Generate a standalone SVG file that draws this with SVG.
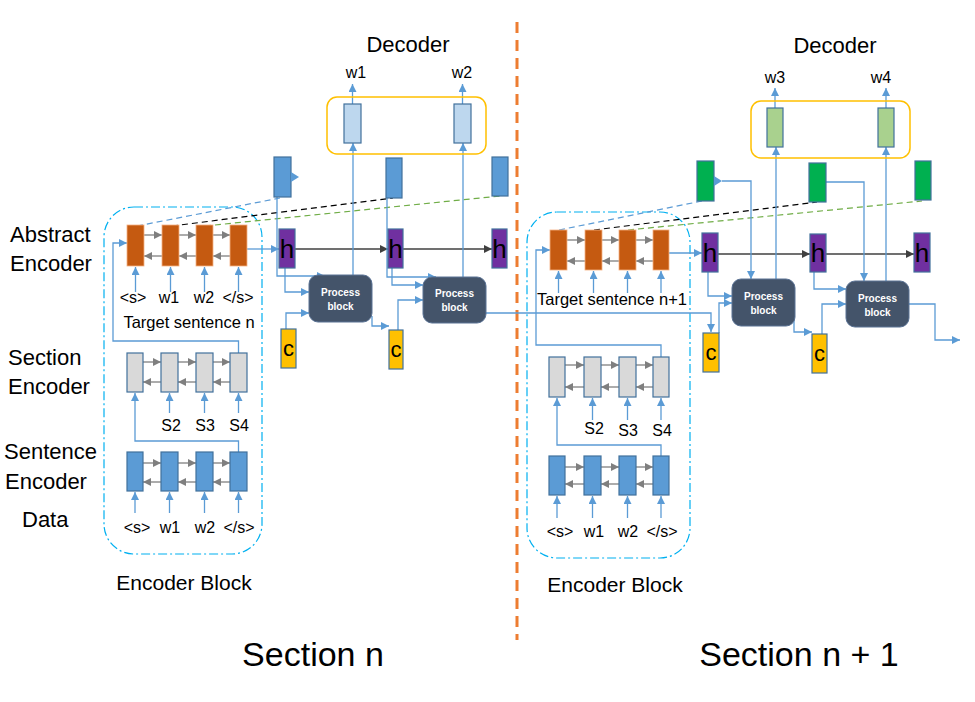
<svg xmlns="http://www.w3.org/2000/svg" width="975" height="702" viewBox="0 0 975 702">
<defs>
<marker id="ab" viewBox="0 0 10 10" refX="10" refY="5" markerWidth="9" markerHeight="8" markerUnits="userSpaceOnUse" orient="auto"><path d="M0,0 L10,5 L0,10 z" fill="#5B9BD5"/></marker>
<marker id="ag" viewBox="0 0 10 10" refX="10" refY="5" markerWidth="9" markerHeight="8" markerUnits="userSpaceOnUse" orient="auto"><path d="M0,0 L10,5 L0,10 z" fill="#7F7F7F"/></marker>
<marker id="ak" viewBox="0 0 10 10" refX="10" refY="5" markerWidth="10" markerHeight="8" markerUnits="userSpaceOnUse" orient="auto"><path d="M0,0 L10,5 L0,10 z" fill="#404040"/></marker>
</defs>
<style>
text{font-family:"Liberation Sans",Arial,sans-serif;fill:#000}
.lab{font-size:22px}
.sm{font-size:16px}
.big{font-size:34px}
.pb{fill:#44546A;stroke:#5A7294;stroke-width:1}
.pbt{font-size:10px;font-weight:bold;fill:#fff;text-anchor:middle}
.or{fill:#C55A11;stroke:#F4B183;stroke-width:0.8}
.gr{fill:#D9D9D9;stroke:#41719C;stroke-width:1.2}
.bl{fill:#5B9BD5;stroke:#41719C;stroke-width:1.2}
.lb{fill:#BDD7EE;stroke:#41719C;stroke-width:1.2}
.lg{fill:#A9D18E;stroke:#41719C;stroke-width:1.2}
.gn{fill:#00B050;stroke:#41719C;stroke-width:1.2}
.hb{fill:#7030A0;stroke:#41719C;stroke-width:1.2}
.cb{fill:#FFC000;stroke:#41719C;stroke-width:1.2}
.ht{font-size:26px;text-anchor:middle}
.ct{font-size:22px;text-anchor:middle}
.c{fill:none;stroke:#5B9BD5;stroke-width:1.3}
.ca{fill:none;stroke:#5B9BD5;stroke-width:1.3;marker-end:url(#ab)}
.ga{fill:none;stroke:#7F7F7F;stroke-width:1.3;marker-end:url(#ag)}
.ka{fill:none;stroke:#404040;stroke-width:1.3;marker-end:url(#ak)}
.mid{text-anchor:middle}
.eb{fill:none;stroke:#00B0F0;stroke-width:1.2;stroke-dasharray:9 3 2 3}
.dec{fill:none;stroke:#FFC000;stroke-width:1.5}
</style>

<!-- labels -->
<g id="labels">
<text class="lab" x="10" y="242">Abstract</text>
<text class="lab" x="10" y="271">Encoder</text>
<text class="lab" x="8" y="365">Section</text>
<text class="lab" x="8" y="394">Encoder</text>
<text class="lab" x="4" y="459">Sentence</text>
<text class="lab" x="5" y="489">Encoder</text>
<text class="lab" x="22" y="527">Data</text>
<text class="lab mid" x="408" y="52">Decoder</text>
<text class="lab mid" x="835" y="53">Decoder</text>
<text class="big mid" x="313" y="666">Section n</text>
<text class="big mid" x="799" y="666">Section n + 1</text>
</g>

<line id="divider" x1="517" y1="22" x2="517" y2="640" stroke="#ED7D31" stroke-width="3" stroke-dasharray="11 7"/>

<!-- encoder blocks -->
<g id="encoder-block-n">
<rect class="eb" x="104" y="207" width="158" height="347" rx="30"/>
<text class="mid" x="184" y="590" style="font-size:21px">Encoder Block</text>
</g>
<g id="encoder-block-n1">
<rect class="eb" x="527" y="212" width="163" height="346" rx="30"/>
<text class="mid" x="615" y="592" style="font-size:21px">Encoder Block</text>
</g>

<!-- connectors -->
<g id="connectors">
<!-- left encoders internal -->
<path class="ga" d="M144,235 H162"/><path class="ga" d="M179,235 H196"/><path class="ga" d="M213,235 H230"/>
<path class="ga" d="M162,256 H144"/><path class="ga" d="M196,256 H179"/><path class="ga" d="M230,256 H213"/>
<path class="ga" d="M143,362 H161"/><path class="ga" d="M178,362 H196"/><path class="ga" d="M213,362 H230"/>
<path class="ga" d="M161,382 H143"/><path class="ga" d="M196,382 H178"/><path class="ga" d="M230,382 H213"/>
<path class="ga" d="M143,463 H161"/><path class="ga" d="M178,463 H196"/><path class="ga" d="M213,463 H230"/>
<path class="ga" d="M161,482 H143"/><path class="ga" d="M196,482 H178"/><path class="ga" d="M230,482 H213"/>
<path class="ca" d="M135.5,292 V267"/><path class="ca" d="M170.5,292 V267"/><path class="ca" d="M204.5,292 V267"/><path class="ca" d="M238.5,292 V267"/>
<path class="ca" d="M169.5,413 V393"/><path class="ca" d="M204.5,413 V393"/><path class="ca" d="M238.5,413 V393"/>
<path class="ca" d="M135,513 V492"/><path class="ca" d="M169.5,513 V492"/><path class="ca" d="M204.5,513 V492"/><path class="ca" d="M238.5,513 V492"/>
<path class="ca" d="M238.5,353 V341 H113 V243 H127"/>
<path class="ca" d="M238.5,452 V441 H135 V393"/>
<!-- right encoders internal -->
<path class="ga" d="M567,240 H585"/><path class="ga" d="M602,240 H619"/><path class="ga" d="M636,240 H653"/>
<path class="ga" d="M585,261 H567"/><path class="ga" d="M619,261 H602"/><path class="ga" d="M653,261 H636"/>
<path class="ga" d="M565,365 H584"/><path class="ga" d="M601,365 H619"/><path class="ga" d="M636,365 H653"/>
<path class="ga" d="M584,387 H565"/><path class="ga" d="M619,387 H601"/><path class="ga" d="M653,387 H636"/>
<path class="ga" d="M565,467 H584"/><path class="ga" d="M601,467 H619"/><path class="ga" d="M636,467 H653"/>
<path class="ga" d="M584,484 H565"/><path class="ga" d="M619,484 H601"/><path class="ga" d="M653,484 H636"/>
<path class="ca" d="M558.5,293 V271"/><path class="ca" d="M593.5,293 V271"/><path class="ca" d="M627.5,293 V271"/><path class="ca" d="M661,293 V271"/>
<path class="ca" d="M592.5,420 V398"/><path class="ca" d="M627.5,420 V398"/><path class="ca" d="M661,420 V398"/>
<path class="ca" d="M557,518 V496"/><path class="ca" d="M592.5,518 V496"/><path class="ca" d="M627.5,518 V496"/><path class="ca" d="M661,518 V496"/>
<path class="ca" d="M661,357 V345 H536 V250 H550"/>
<path class="ca" d="M661,456 V445 H557 V398"/>

<!-- dashed attention lines -->
<line x1="137" y1="226" x2="280" y2="198" stroke="#5B9BD5" stroke-width="1.2" stroke-dasharray="6 4"/>
<line x1="172" y1="226" x2="393" y2="198" stroke="#000" stroke-width="1.2" stroke-dasharray="6 4"/>
<line x1="205" y1="226" x2="500" y2="196" stroke="#70AD47" stroke-width="1.2" stroke-dasharray="6 4"/>
<line x1="559" y1="230" x2="702" y2="201" stroke="#5B9BD5" stroke-width="1.2" stroke-dasharray="6 4"/>
<line x1="594" y1="230" x2="817" y2="202" stroke="#000" stroke-width="1.2" stroke-dasharray="6 4"/>
<line x1="628" y1="230" x2="922" y2="201" stroke="#70AD47" stroke-width="1.2" stroke-dasharray="6 4"/>

<!-- left section flow -->
<path class="ca" d="M247,249 H279"/>
<path class="ka" d="M295,249 H388"/>
<path class="ka" d="M403,249 H492"/>
<path class="ca" d="M277,197 V276 H325"/>
<path class="ca" d="M285,268 V292 H309"/>
<path class="ca" d="M286,329 V313 H309"/>
<path class="ca" d="M372,316 V326 H389"/>
<path class="ca" d="M398,330 V300 H423"/>
<path class="ca" d="M387,198 V277 H436"/>
<path class="ca" d="M392,268 V285 H423"/>
<path class="ca" d="M486,313 H711 V332"/>
<path class="ca" d="M353,275 V143"/>
<path class="ca" d="M463,277 V143"/>
<path class="ca" d="M352.5,104 V84"/>
<path class="ca" d="M462.5,104 V84"/>

<!-- right section flow -->
<path class="ca" d="M669,253 H702"/>
<path class="ka" d="M718,254 H810"/>
<path class="ka" d="M826,254 H914"/>
<path class="ca" d="M722,181 H751 V279"/>
<path class="ca" d="M708,272 V296 H732"/>
<path class="ca" d="M719,333 V303 H732"/>
<path class="ca" d="M794,318 V332 H812"/>
<path class="ca" d="M822,334 V304 H846"/>
<path class="ca" d="M826,182 H864 V281"/>
<path class="ca" d="M814,272 V289 H846"/>
<path class="ca" d="M909,304 H935 V340 H960"/>
<path class="ca" d="M776,279 V147"/>
<path class="ca" d="M886,281 V147"/>
<path class="ca" d="M775,108 V88"/>
<path class="ca" d="M886,108 V88"/>
</g>

<!-- left abstract encoder -->
<g id="abs-enc-n">
<rect class="or" x="127" y="225" width="17" height="41"/>
<rect class="or" x="162" y="225" width="17" height="41"/>
<rect class="or" x="196" y="225" width="17" height="41"/>
<rect class="or" x="230" y="225" width="17" height="41"/>
<text class="sm mid" x="133" y="303">&lt;s&gt;</text>
<text class="sm mid" x="169" y="303">w1</text>
<text class="sm mid" x="204" y="303">w2</text>
<text class="sm mid" x="238" y="303">&lt;/s&gt;</text>
<text class="mid" x="189" y="328" style="font-size:16.5px">Target sentence n</text>
</g>
<g id="sec-enc-n">
<rect class="gr" x="127" y="353" width="16" height="39"/>
<rect class="gr" x="161" y="353" width="17" height="39"/>
<rect class="gr" x="196" y="353" width="17" height="39"/>
<rect class="gr" x="230" y="353" width="17" height="39"/>
<text class="sm mid" x="171" y="431">S2</text>
<text class="sm mid" x="205" y="431">S3</text>
<text class="sm mid" x="239" y="431">S4</text>
</g>
<g id="sent-enc-n">
<rect class="bl" x="127" y="452" width="16" height="39"/>
<rect class="bl" x="161" y="452" width="17" height="39"/>
<rect class="bl" x="196" y="452" width="17" height="39"/>
<rect class="bl" x="230" y="452" width="17" height="39"/>
<text class="sm mid" x="137" y="533">&lt;s&gt;</text>
<text class="sm mid" x="170" y="533">w1</text>
<text class="sm mid" x="205" y="533">w2</text>
<text class="sm mid" x="239" y="533">&lt;/s&gt;</text>
</g>

<!-- left decoder -->
<g id="decoder-n">
<rect class="dec" x="327" y="97" width="159" height="57" rx="10"/>
<rect class="lb" x="344" y="104" width="17" height="39"/>
<rect class="lb" x="454" y="104" width="17" height="39"/>
<text class="sm mid" x="356" y="78">w1</text>
<text class="sm mid" x="462" y="78">w2</text>
</g>
<g id="prev-n">
<rect class="bl" x="274" y="157" width="17" height="40"/>
<polygon points="291,172 299,177 291,182" fill="#5B9BD5"/>
<rect class="bl" x="386" y="158" width="16" height="40"/>
<rect class="bl" x="492" y="157" width="16" height="39"/>
</g>
<g id="h-n">
<rect class="hb" x="279" y="229" width="16" height="39"/><text class="ht" x="287" y="258">h</text>
<rect class="hb" x="388" y="229" width="15" height="39"/><text class="ht" x="395.5" y="258">h</text>
<rect class="hb" x="492" y="229" width="15" height="39"/><text class="ht" x="499.5" y="258">h</text>
</g>
<g id="c-n">
<rect class="cb" x="281" y="329" width="15" height="39"/><text class="ct" x="288.5" y="356">c</text>
<rect class="cb" x="389" y="330" width="14" height="39"/><text class="ct" x="396" y="357">c</text>
</g>
<g id="pb-n-1">
<rect class="pb" x="309" y="275" width="63" height="47" rx="9"/>
<text class="pbt" x="340.5" y="296">Process</text><text class="pbt" x="340.5" y="310">block</text>
</g>
<g id="pb-n-2">
<rect class="pb" x="423" y="277" width="63" height="46" rx="9"/>
<text class="pbt" x="454.5" y="297">Process</text><text class="pbt" x="454.5" y="311">block</text>
</g>

<!-- right encoders -->
<g id="abs-enc-n1">
<rect class="or" x="550" y="230" width="17" height="40"/>
<rect class="or" x="585" y="230" width="17" height="40"/>
<rect class="or" x="619" y="230" width="17" height="40"/>
<rect class="or" x="653" y="230" width="16" height="40"/>
<text class="mid" x="612" y="305" style="font-size:16.5px">Target sentence n+1</text>
</g>
<g id="sec-enc-n1">
<rect class="gr" x="549" y="357" width="16" height="40"/>
<rect class="gr" x="584" y="357" width="17" height="40"/>
<rect class="gr" x="619" y="357" width="17" height="40"/>
<rect class="gr" x="653" y="357" width="16" height="40"/>
<text class="sm mid" x="594" y="434">S2</text>
<text class="sm mid" x="628" y="436">S3</text>
<text class="sm mid" x="662" y="436">S4</text>
</g>
<g id="sent-enc-n1">
<rect class="bl" x="549" y="456" width="16" height="39"/>
<rect class="bl" x="584" y="456" width="17" height="39"/>
<rect class="bl" x="619" y="456" width="17" height="39"/>
<rect class="bl" x="653" y="456" width="16" height="39"/>
<text class="sm mid" x="560" y="537">&lt;s&gt;</text>
<text class="sm mid" x="594" y="537">w1</text>
<text class="sm mid" x="628" y="537">w2</text>
<text class="sm mid" x="662" y="537">&lt;/s&gt;</text>
</g>
<g id="decoder-n1">
<rect class="dec" x="751" y="101" width="159" height="57" rx="10"/>
<rect class="lg" x="767" y="108" width="16" height="39"/>
<rect class="lg" x="878" y="108" width="16" height="39"/>
<text class="sm mid" x="775" y="83">w3</text>
<text class="sm mid" x="881" y="83">w4</text>
</g>
<g id="prev-n1">
<rect class="gn" x="697" y="161" width="17" height="40"/>
<polygon points="714,176 722,181 714,186" fill="#5B9BD5"/>
<rect class="gn" x="809" y="163" width="17" height="39"/>
<rect class="gn" x="915" y="161" width="16" height="39"/>
</g>
<g id="h-n1">
<rect class="hb" x="702" y="233" width="16" height="39"/><text class="ht" x="710" y="262">h</text>
<rect class="hb" x="810" y="234" width="16" height="38"/><text class="ht" x="818" y="262">h</text>
<rect class="hb" x="914" y="233" width="16" height="39"/><text class="ht" x="922" y="262">h</text>
</g>
<g id="c-n1">
<rect class="cb" x="703" y="333" width="16" height="39"/><text class="ct" x="711" y="360">c</text>
<rect class="cb" x="812" y="334" width="15" height="39"/><text class="ct" x="819.5" y="361">c</text>
</g>
<g id="pb-n1-1">
<rect class="pb" x="732" y="279" width="63" height="47" rx="9"/>
<text class="pbt" x="763.5" y="300">Process</text><text class="pbt" x="763.5" y="314">block</text>
</g>
<g id="pb-n1-2">
<rect class="pb" x="846" y="281" width="63" height="46" rx="9"/>
<text class="pbt" x="877.5" y="302">Process</text><text class="pbt" x="877.5" y="316">block</text>
</g>
</svg>
